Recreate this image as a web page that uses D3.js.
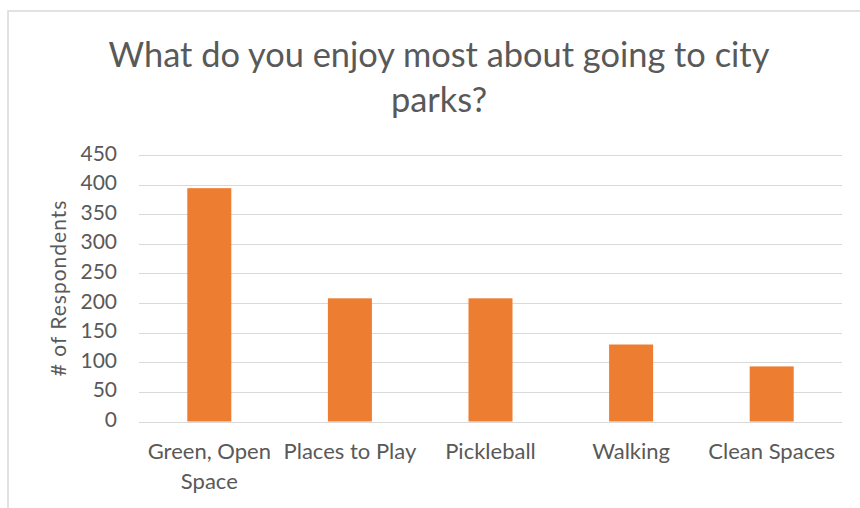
<!DOCTYPE html>
<html>
<head>
<meta charset="utf-8">
<script src="https://cdn.jsdelivr.net/npm/d3@7/dist/d3.min.js"></script>
<style>
  html, body { margin: 0; padding: 0; background: #fff; }
  svg { display: block; }
  text { font-family: Lato, "Open Sans", sans-serif; fill: #595959; }
</style>
</head>
<body>
<svg id="chart" width="860" height="508"></svg>
<script>
const categories = ["Green, Open Space", "Places to Play", "Pickleball", "Walking", "Clean Spaces"];
const categoryLines = [["Green, Open", "Space"], ["Places to Play"], ["Pickleball"], ["Walking"], ["Clean Spaces"]];
const values = [394, 208, 208, 130, 93];
const yTicks = [0, 50, 100, 150, 200, 250, 300, 350, 400, 450];
const titleLines = ["What do you enjoy most about going to city", "parks?"];
const yAxisTitle = "# of Respondents";

const svg = d3.select("#chart");

// chart border (top and left visible)
svg.append("rect")
  .attr("x", 8).attr("y", 11)
  .attr("width", 900).attr("height", 600)
  .attr("fill", "none").attr("stroke", "#d9d9d9").attr("stroke-width", 1.5);

const x = d3.scaleBand()
  .domain(categories)
  .range([139, 842])
  .paddingInner(0.687)
  .paddingOuter(0.3435);

const y = d3.scaleLinear().domain([0, 450]).range([421.5, 155]);

// gridlines
svg.append("g").selectAll("line").data(yTicks).join("line")
  .attr("x1", 139).attr("x2", 842)
  .attr("y1", d => Math.round(y(d)) + 0.5).attr("y2", d => Math.round(y(d)) + 0.5)
  .attr("stroke", "#d9d9d9").attr("stroke-width", 1);

// y tick labels
svg.append("g").selectAll("text").data(yTicks).join("text")
  .attr("x", 117).attr("y", d => y(d) + 5.5)
  .attr("text-anchor", "end")
  .style("font-size", "21px")
  .text(d => d);

// bars
svg.append("g").selectAll("rect").data(values).join("rect")
  .attr("x", (d, i) => x(categories[i]))
  .attr("y", d => y(d))
  .attr("width", x.bandwidth())
  .attr("height", d => y(0) - y(d))
  .attr("fill", "#ED7D31");

// category labels
const cl = svg.append("g").selectAll("text").data(categoryLines).join("text")
  .attr("text-anchor", "middle")
  .style("font-size", "22px")
  .attr("transform", (d, i) => `translate(${x(categories[i]) + x.bandwidth() / 2},459)`);
cl.selectAll("tspan").data(d => d).join("tspan")
  .attr("x", 0).attr("y", (d, j) => j * 30)
  .text(d => d);

// y axis title
svg.append("text")
  .attr("transform", "translate(65.5,288) rotate(-90)")
  .attr("text-anchor", "middle")
  .style("font-size", "21px")
  .style("letter-spacing", "1px")
  .text(yAxisTitle);

// title
svg.append("g").selectAll("text").data(titleLines).join("text")
  .attr("x", 439).attr("y", (d, i) => 66.7 + i * 45)
  .attr("text-anchor", "middle")
  .style("font-size", "34.4px")
  .text(d => d);
</script>
</body>
</html>
